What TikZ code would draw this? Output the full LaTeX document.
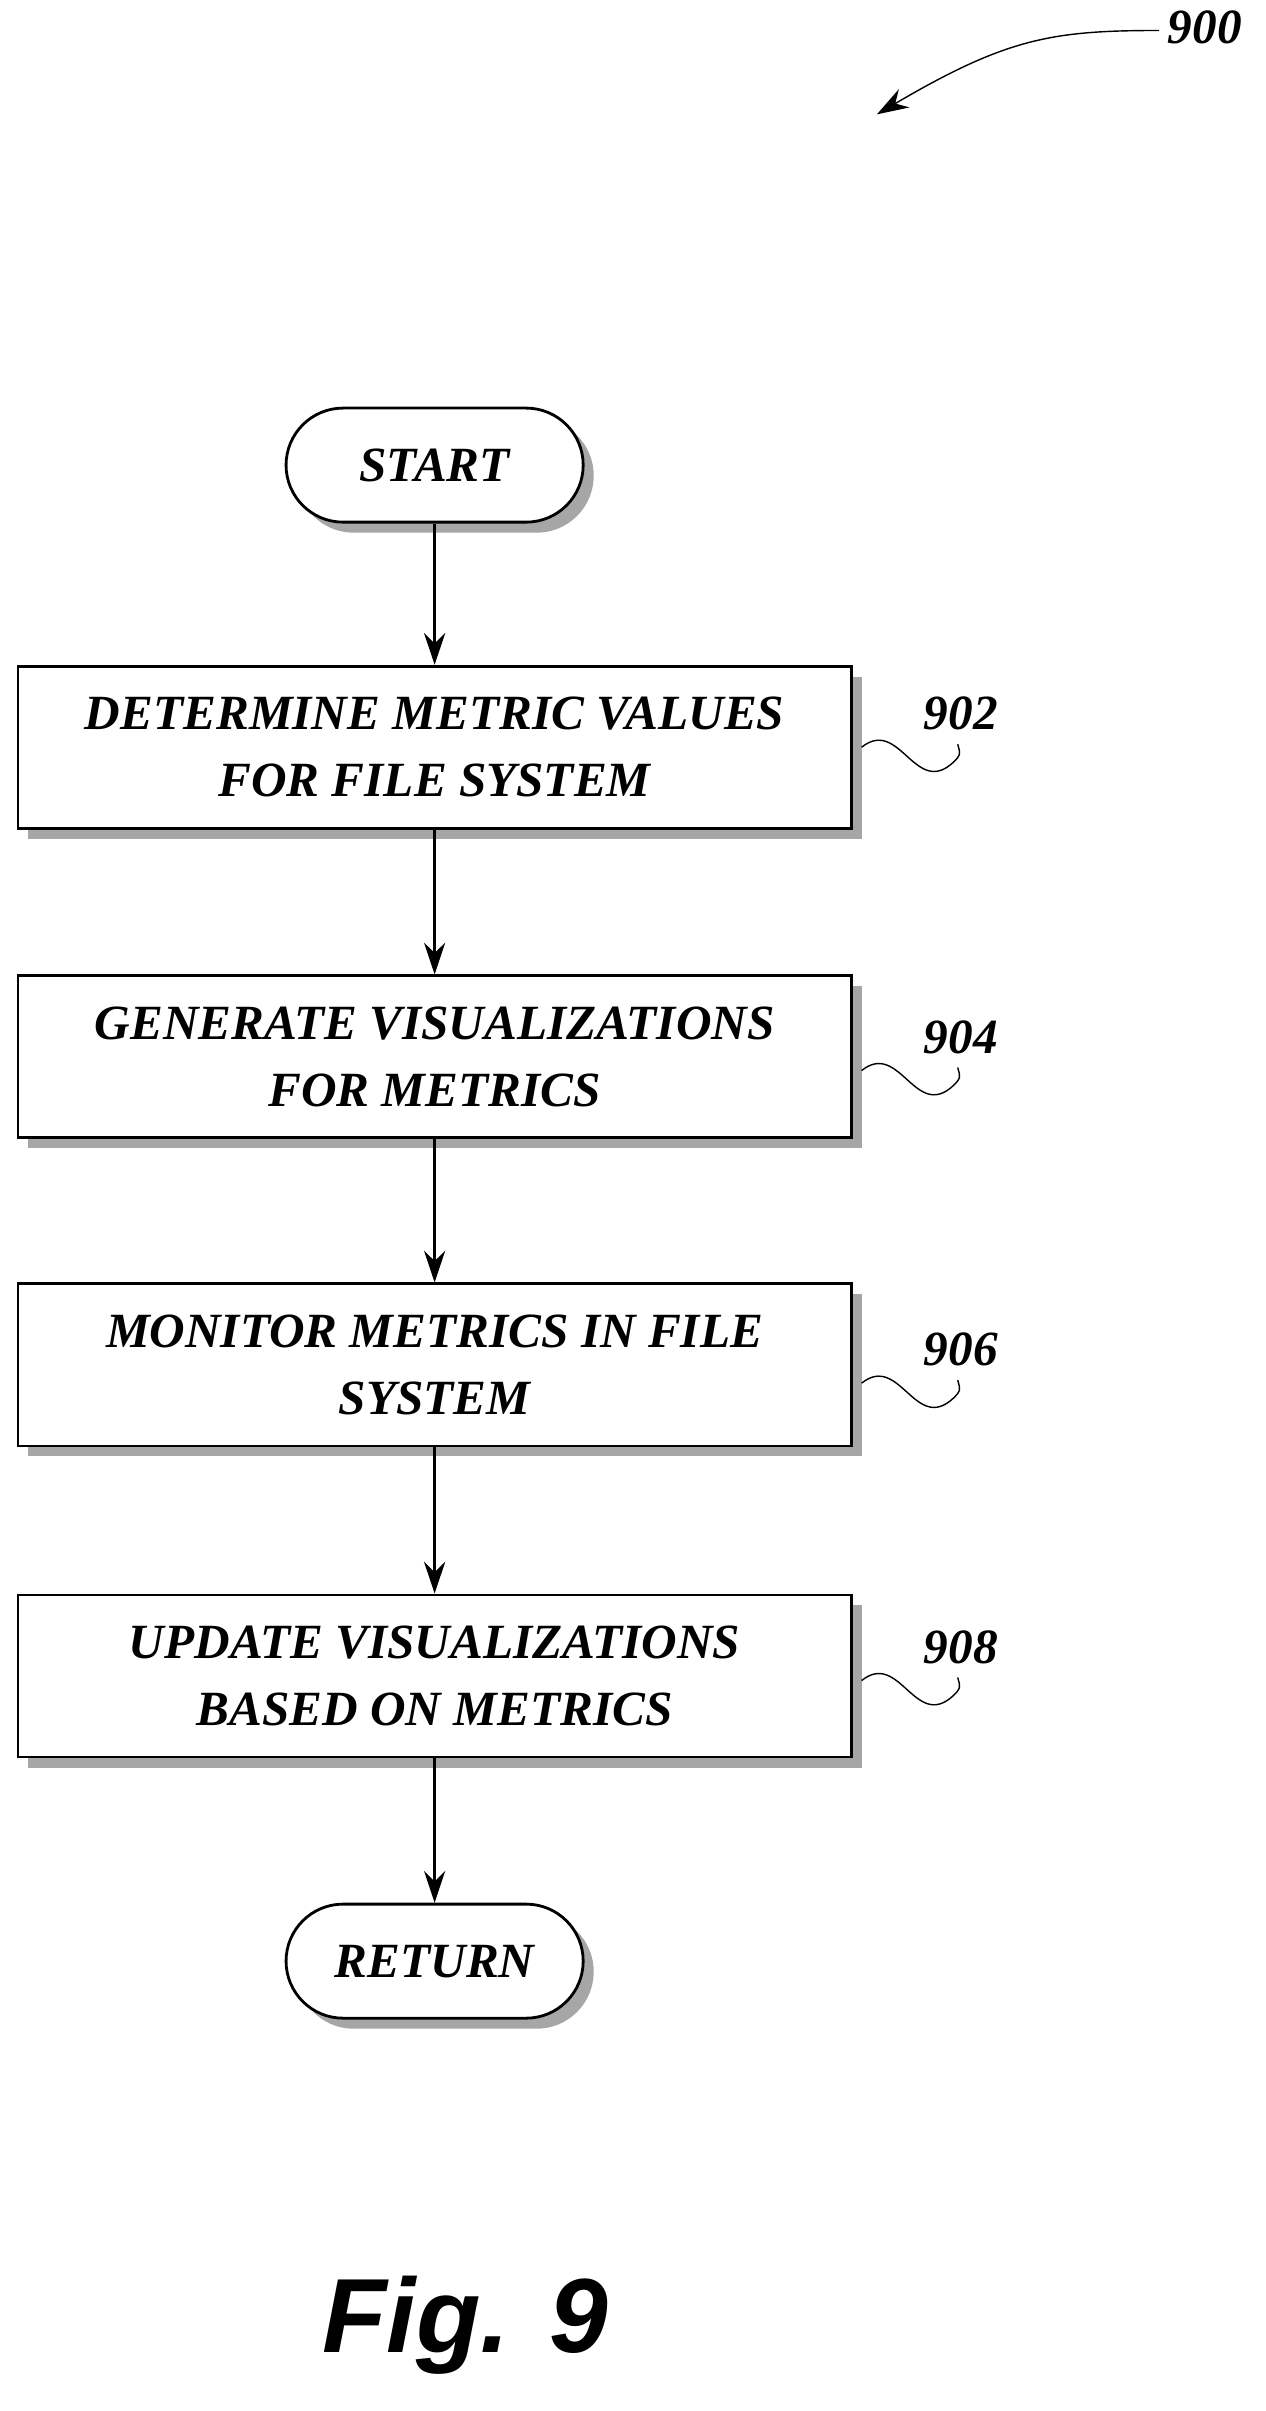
\documentclass[tikz,border=0pt]{standalone}
\usepackage{fontspec}
\setmainfont{Liberation Serif}
\setsansfont{Liberation Sans}
\usetikzlibrary{positioning}
\usetikzlibrary{shadows}
\usetikzlibrary{arrows.meta}

\begin{document}
\begin{tikzpicture}[x=0.01525cm, y=-0.01525cm, >={Stealth[length=9pt,width=6pt]},
                    thick,
                    shade/.style={drop shadow={shadow xshift=3pt, shadow yshift=-3pt, fill=gray!70, opacity=1}},
                    step node/.style={rectangle,draw,fill=white,shade,minimum width=8.33cm,minimum height=1.62cm,
                                      align=center,font=\fontsize{14}{19}\selectfont\bfseries\itshape},
                    term node/.style={rectangle,draw,fill=white,shade,minimum width=2.97cm,minimum height=1.14cm,
                                      rounded corners=0.57cm,font=\fontsize{14}{17}\selectfont\bfseries\itshape},
                    ref label/.style={font=\fontsize{14}{17}\selectfont\bfseries\itshape}]
\useasboundingbox (0,0) rectangle (830,1581);

\node[term node] (start) at (285,305) {START};
\node[step node] (902) at (285,490) {DETERMINE METRIC VALUES\\FOR FILE SYSTEM};
\node[step node] (904) at (285,693) {GENERATE VISUALIZATIONS\\FOR METRICS};
\node[step node] (906) at (285,895) {MONITOR METRICS IN FILE\\SYSTEM};
\node[step node] (908) at (285,1099) {UPDATE VISUALIZATIONS\\BASED ON METRICS};
\node[term node] (return) at (285,1286) {RETURN};

\path[->]
  (start) edge (902)
  (902) edge (904)
  (904) edge (906)
  (906) edge (908)
  (908) edge (return);

% reference numerals
\foreach \n/\y in {902/468, 904/680, 906/885, 908/1080} {
  \node[ref label] (l\n) at (630,\y) {\n};
  \coordinate (s\n) at (565,\y+22);
  \draw[thin] (s\n) .. controls (590,\y+2) and (600,\y+55) .. (625,\y+32) .. controls (630,\y+27) .. (628,\y+20);
}

\node[ref label] (l900) at (790,18) {900};
\coordinate (a900) at (760,20);
\draw[thin,->] (a900) .. controls (690,20) and (660,25) .. (575,75);

\node[font=\fontsize{30}{34}\selectfont\sffamily\bfseries\itshape] (fig) at (305,1525) {Fig. 9};
\end{tikzpicture}
\end{document}
